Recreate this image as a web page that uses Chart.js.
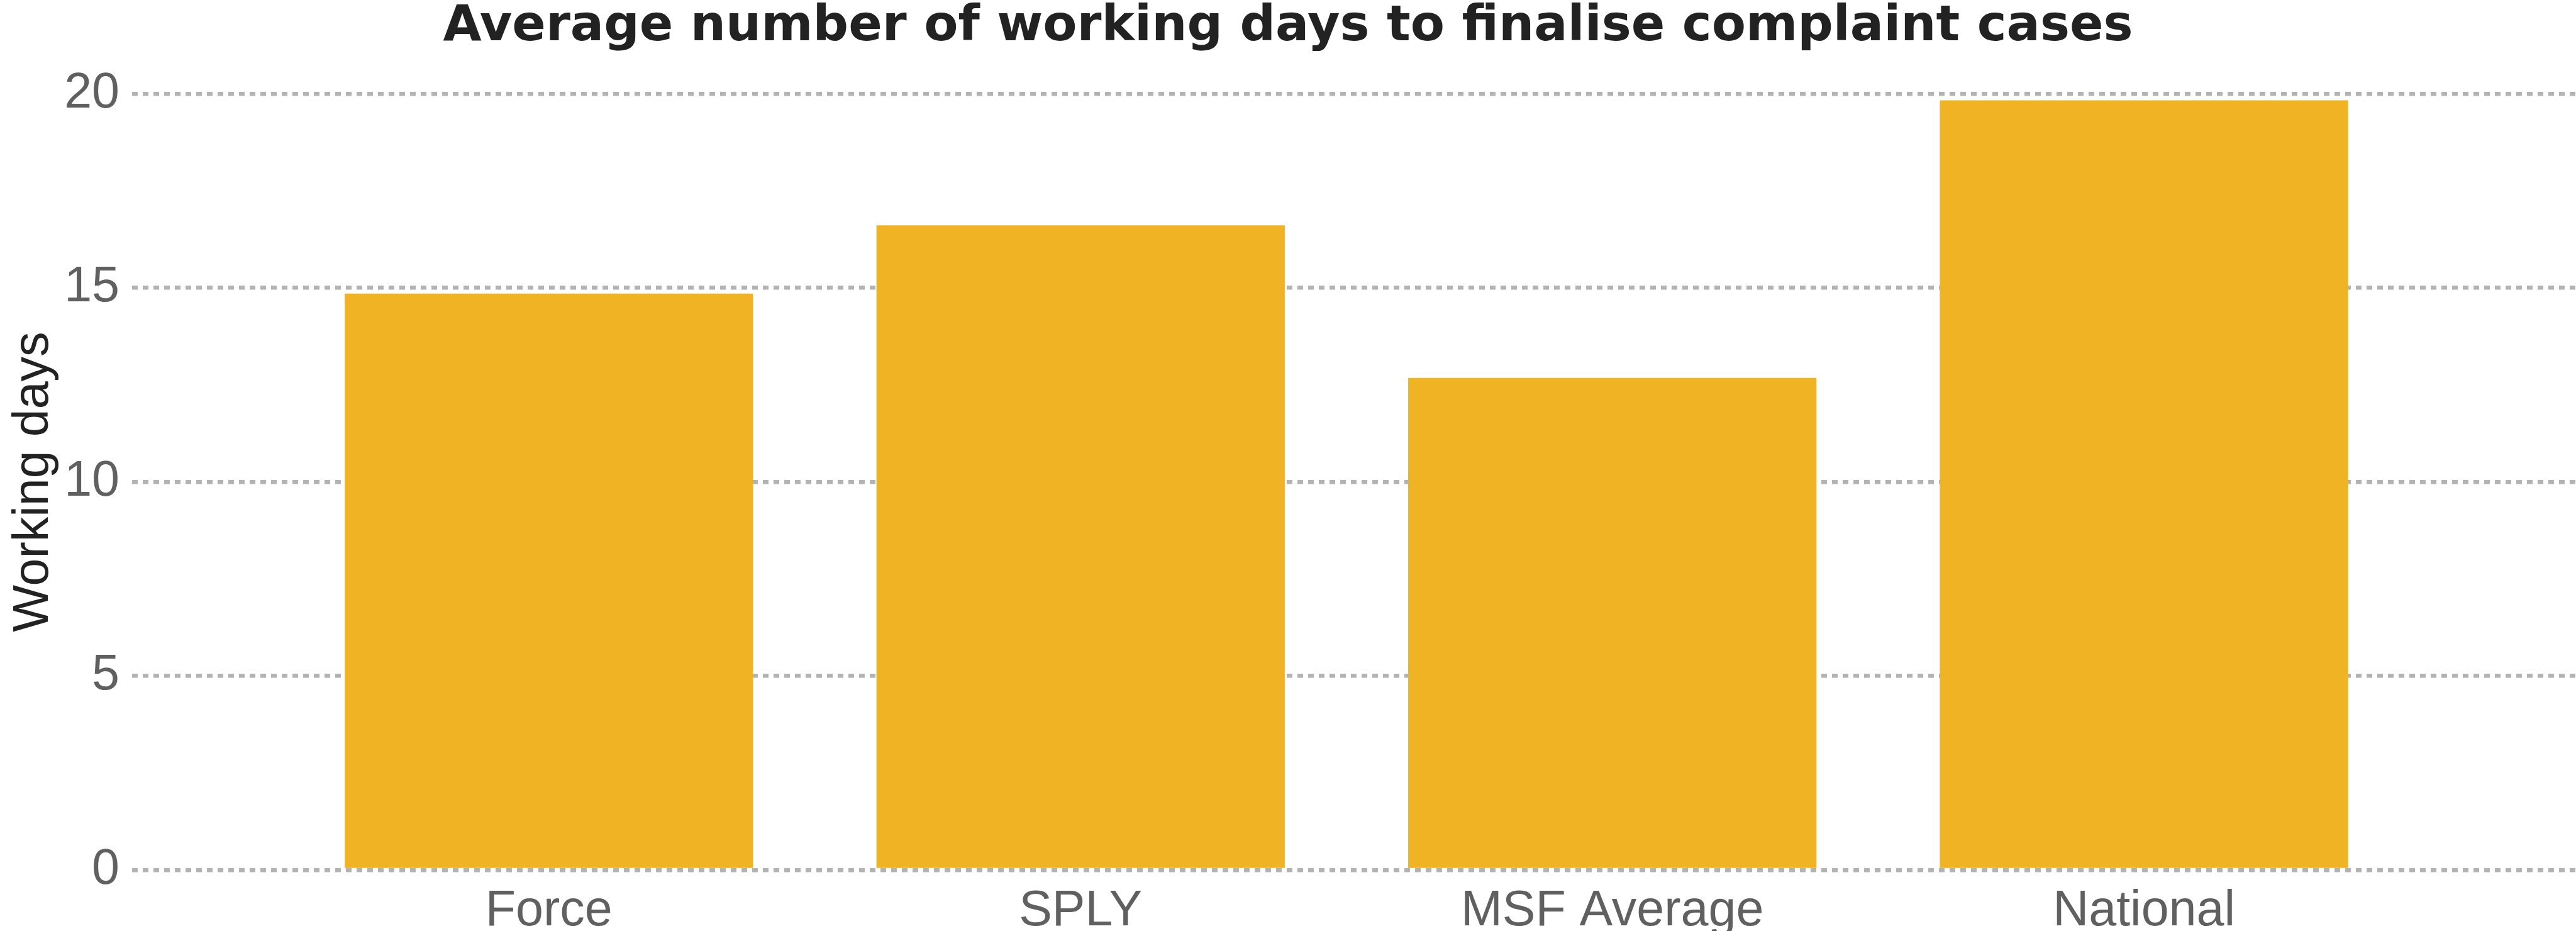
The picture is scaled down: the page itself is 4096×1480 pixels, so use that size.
<!DOCTYPE html>
<html>
<head>
<meta charset="utf-8">
<script src="https://cdn.jsdelivr.net/npm/chart.js@4"></script>
<style>
  body { margin: 0; background: #fff; }
</style>
</head>
<body>
<canvas id="daysChart" width="4096" height="1480"></canvas>
<script>
// values
const categories = ['Force', 'SPLY', 'MSF Average', 'National'];
const workingDays = [14.85, 16.61, 12.68, 19.83];
const yTicks = [0, 5, 10, 15, 20];
const chartTitle = 'Average number of working days to finalise complaint cases';
const yTitle = 'Working days';

// bars sit at x = 1..4 on a linear axis so the plot can run wider than the bars
const positions = categories.map((c, i) => i + 1);

const tickFont = { family: 'Liberation Sans, Arial, sans-serif', size: 79, lineHeight: 1 };

const ctx = document.getElementById('daysChart').getContext('2d');
new Chart(ctx, {
  type: 'bar',
  data: {
    datasets: [{
      data: positions.map((x, i) => ({ x: x, y: workingDays[i] })),
      backgroundColor: '#EFB324',
      borderWidth: 0,
      barPercentage: 0.768,
      categoryPercentage: 1
    }]
  },
  options: {
    responsive: false,
    animation: false,
    layout: { padding: 0 },
    plugins: {
      legend: { display: false },
      tooltip: { enabled: false },
      title: {
        display: true,
        text: chartTitle,
        color: '#222222',
        font: { family: 'DejaVu Sans', size: 79, weight: 'bold', lineHeight: 1 },
        padding: { top: 4, bottom: 66 }
      }
    },
    scales: {
      x: {
        type: 'linear',
        offset: false,
        min: 0.216,
        max: 4.8125,
        grid: { display: false, offset: false },
        border: { display: false },
        afterBuildTicks: s => { s.ticks = positions.map(v => ({ value: v })); },
        afterFit: s => { s.height = 97; },
        ticks: {
          autoSkip: false,
          maxRotation: 0,
          padding: 19,
          color: '#606060',
          font: tickFont,
          callback: v => categories[v - 1] || ''
        }
      },
      y: {
        min: 0,
        max: 20,
        afterBuildTicks: s => { s.ticks = yTicks.map(v => ({ value: v })); },
        afterFit: s => { s.width = 210; },
        grid: { color: '#b3b3b3', lineWidth: 6.6, drawTicks: false },
        border: { display: false, dash: [9, 8] },
        ticks: {
          padding: 20,
          color: '#606060',
          font: tickFont
        },
        title: {
          display: true,
          text: yTitle,
          color: '#222222',
          font: tickFont,
          padding: { top: 15, bottom: 0 }
        }
      }
    }
  }
});
</script>
</body>
</html>
